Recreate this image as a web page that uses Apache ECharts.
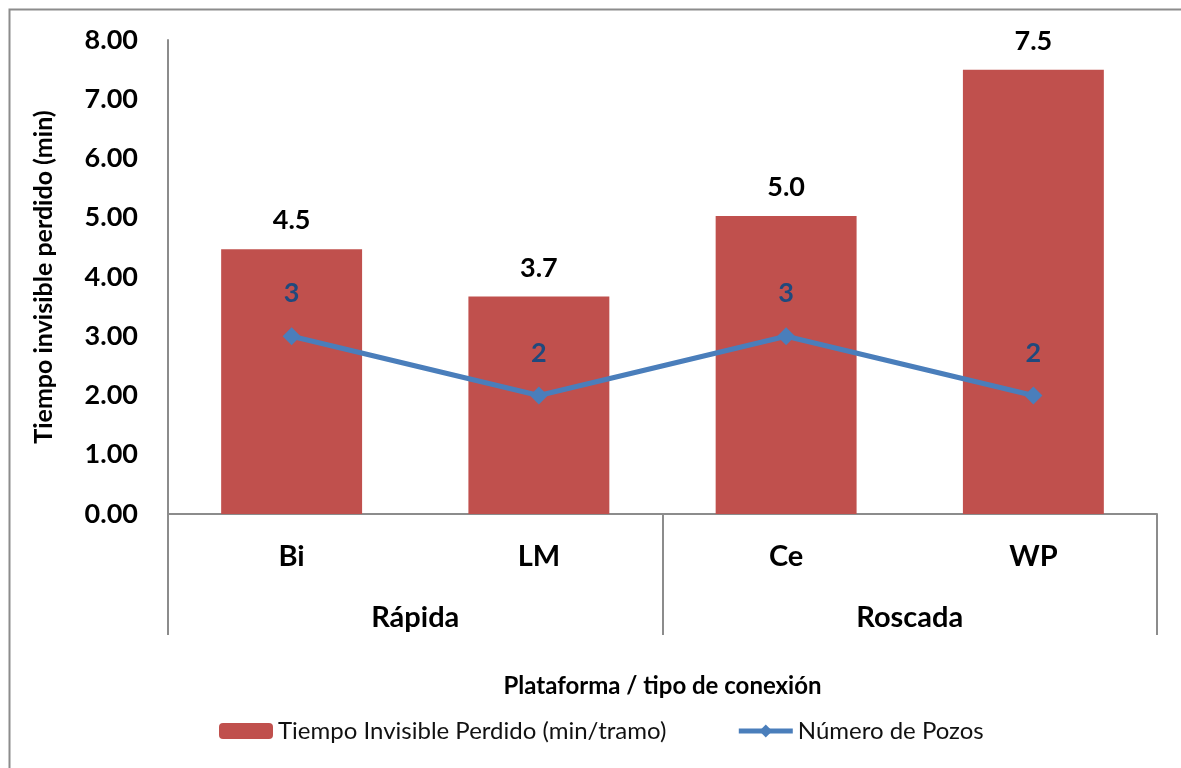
<!DOCTYPE html>
<html>
<head>
<meta charset="utf-8">
<script src="https://cdn.jsdelivr.net/npm/echarts@6/dist/echarts.min.js"></script>
<style>
  html, body { margin: 0; padding: 0; background: #fff; }
  #chart { width: 1181px; height: 768px; }
</style>
</head>
<body>
<div id="chart"></div>
<script>
// datos
var categorias = ['Bi', 'LM', 'Ce', 'WP'];
var grupos = ['Rápida', 'Roscada'];
var tiempoPerdido = [4.47, 3.67, 5.03, 7.5];
var numeroPozos = [3, 2, 3, 2];
var yTicks = [0, 1, 2, 3, 4, 5, 6, 7, 8];

var fuente = 'Lato';
var myChart = echarts.init(document.getElementById('chart'));

var option = {
  backgroundColor: '#fff',
  textStyle: { fontFamily: fuente },
  graphic: [{
    type: 'rect',
    left: 7, top: 7,
    shape: { width: 1200, height: 800 },
    style: { fill: 'none', stroke: '#8c8c8c', lineWidth: 2 },
    silent: true
  }],
  legend: {
    top: 714,
    left: 214,
    itemWidth: 54,
    itemHeight: 16,
    itemGap: 70,
    lineStyle: { width: 5 },
    textStyle: { fontFamily: fuente, fontSize: 24, color: '#111' },
    data: ['Tiempo Invisible Perdido (min/tramo)', 'Número de Pozos']
  },
  grid: { left: 168, right: 24, top: 40, bottom: 254 },
  xAxis: [{
    type: 'category',
    data: categorias,
    name: 'Plataforma / tipo de conexión',
    nameLocation: 'middle',
    nameGap: 160,
    nameTextStyle: { fontFamily: fuente, fontSize: 24, fontWeight: 'bold', color: '#000' },
    axisLine: { lineStyle: { color: '#8c8c8c', width: 2 } },
    axisTick: { show: false },
    axisLabel: { margin: 28, fontFamily: fuente, fontSize: 29, fontWeight: 'bold', color: '#000' }
  }, {
    type: 'category',
    data: grupos,
    position: 'bottom',
    axisLine: { show: false },
    axisTick: { show: true, length: 121, lineStyle: { color: '#8c8c8c', width: 2 } },
    axisLabel: { margin: 89, fontFamily: fuente, fontSize: 29, fontWeight: 'bold', color: '#000' }
  }],
  yAxis: {
    type: 'value',
    min: yTicks[0],
    max: yTicks[yTicks.length - 1],
    interval: 1,
    name: 'Tiempo invisible perdido (min)',
    nameLocation: 'middle',
    nameGap: 112,
    nameTextStyle: { fontFamily: fuente, fontSize: 25, fontWeight: 'bold', color: '#000' },
    axisLine: { show: true, lineStyle: { color: '#8c8c8c', width: 2 } },
    axisTick: { show: false },
    splitLine: { show: false },
    axisLabel: {
      margin: 30,
      fontFamily: fuente, fontSize: 27, fontWeight: 'bold', color: '#000',
      formatter: function (v) { return v.toFixed(2); }
    }
  },
  series: [{
    name: 'Tiempo Invisible Perdido (min/tramo)',
    type: 'bar',
    xAxisIndex: 0,
    barWidth: '57%',
    itemStyle: { color: '#C0504D' },
    label: {
      show: true, position: 'top', distance: 15,
      fontFamily: fuente, fontSize: 27, fontWeight: 'bold', color: '#000',
      formatter: function (p) { return p.value.toFixed(1); }
    },
    data: tiempoPerdido
  }, {
    name: 'Número de Pozos',
    type: 'line',
    xAxisIndex: 0,
    symbol: 'diamond',
    symbolSize: 18,
    lineStyle: { color: '#4A7EBB', width: 5 },
    itemStyle: { color: '#4A7EBB' },
    label: {
      show: true, position: 'top', distance: 20,
      fontFamily: fuente, fontSize: 27, fontWeight: 'bold', color: '#1F497D'
    },
    data: numeroPozos
  }]
};

myChart.setOption(option);
window.onresize = function () {
  myChart.resize();
};
</script>
</body>
</html>
